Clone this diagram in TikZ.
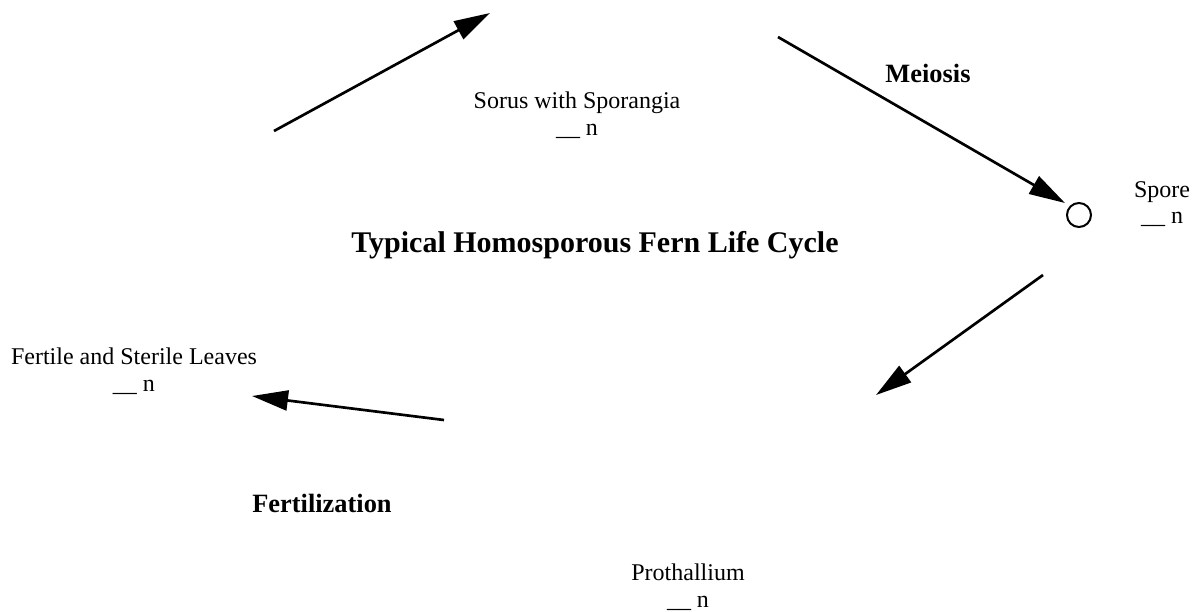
\documentclass[tikz,border=0pt]{standalone}
\usepackage{fontspec}
\setmainfont{Liberation Serif}
\usetikzlibrary{arrows.meta}
\begin{document}
\begin{tikzpicture}[x=0.75pt,y=-0.75pt,>={Triangle[length=27pt,width=15pt]},
   txt/.style={font=\fontsize{18}{20}\selectfont,align=center,inner sep=0pt},
   stage/.style={font=\fontsize{19.8}{22}\selectfont\bfseries,inner sep=0pt},
   arr/.style={->,line width=2pt}]
   \useasboundingbox (0,0) rectangle (1193,611);
   % 題名
   \node [font=\fontsize{22.5}{26}\selectfont\bfseries,inner sep=0pt] (title) at (595,245) {Typical Homosporous Fern Life Cycle};

   % 各段階
   \node [txt] (sorus) at (577,115) {Sorus with Sporangia\\\_\_ n};
   \node [txt] (sporetext) at (1162,204) {Spore\\\_\_ n};
   \node [draw,circle,line width=1.5pt,minimum size=18pt,inner sep=0pt] (spore) at (1079,215) {};
   \node [txt] (leaves) at (134,371) {Fertile and Sterile Leaves\\\_\_ n};
   \node [txt] (prothallium) at (688,587) {Prothallium\\\_\_ n};

   \node [stage] (meiosis) at (928,73) {Meiosis};
   \node [stage] (fertilization) at (322,503) {Fertilization};

   % 矢印
   \coordinate (a1) at (274,131);
   \coordinate (b1) at (490,13);
   \coordinate (a2) at (778,37);
   \coordinate (b2) at (1065,203);
   \coordinate (a3) at (1043,275);
   \coordinate (b3) at (876,395);
   \coordinate (a4) at (444,420);
   \coordinate (b4) at (252,396);
   \draw [arr] (a1)--(b1);
   \draw [arr] (a2)--(b2);
   \draw [arr] (a3)--(b3);
   \draw [arr] (a4)--(b4);
\end{tikzpicture}
\end{document}
